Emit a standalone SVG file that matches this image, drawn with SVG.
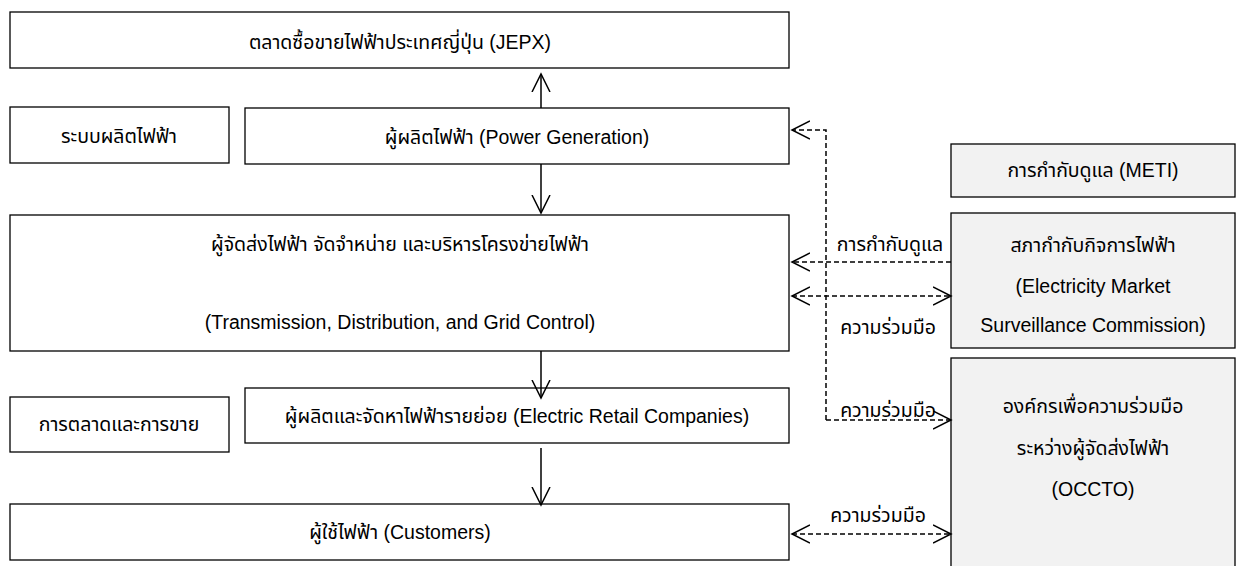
<svg xmlns="http://www.w3.org/2000/svg" width="1243" height="566" viewBox="0 0 1243 566">
<style>
.box{fill:#ffffff;stroke:#000;stroke-width:1.3}
.gbox{fill:#f2f2f2;stroke:#000;stroke-width:1.3}
text{font-family:"Liberation Sans","Noto Sans Thai","Noto Sans",sans-serif;font-size:19.5px;fill:#000;text-anchor:middle;dominant-baseline:central}
.solid{fill:none;stroke:#000;stroke-width:1.5}
.dash{fill:none;stroke:#000;stroke-width:1.5;stroke-dasharray:5,3}
</style>
<defs>
<marker id="open" viewBox="0 0 20 20" refX="18" refY="10" markerWidth="20" markerHeight="20" markerUnits="userSpaceOnUse" orient="auto-start-reverse">
<path d="M0,1 L18,10 L0,19" fill="none" stroke="#000" stroke-width="1.5"/>
</marker>
</defs>
<g id="jepx"><rect class="box" x="10" y="12" width="779" height="56"/><text x="400" y="42">ตลาดซื้อขายไฟฟ้าประเทศญี่ปุ่น (JEPX)</text></g>
<g id="gen-system"><rect class="box" x="10" y="107" width="219" height="56"/><text x="119" y="136">ระบบผลิตไฟฟ้า</text></g>
<g id="power-gen"><rect class="box" x="245" y="108" width="544" height="56"/><text x="517" y="137">ผู้ผลิตไฟฟ้า (Power Generation)</text></g>
<g id="meti"><rect class="gbox" x="951" y="144" width="284" height="53"/><text x="1093" y="170">การกำกับดูแล (METI)</text></g>
<g id="transmission"><rect class="box" x="10" y="215" width="779" height="136"/><text x="400" y="244">ผู้จัดส่งไฟฟ้า จัดจำหน่าย และบริหารโครงข่ายไฟฟ้า</text><text x="400" y="322">(Transmission, Distribution, and Grid Control)</text></g>
<g id="emsc"><rect class="gbox" x="951" y="213" width="284" height="135"/><text x="1093" y="245">สภากำกับกิจการไฟฟ้า</text><text x="1093" y="286">(Electricity Market</text><text x="1093" y="325">Surveillance Commission)</text></g>
<g id="occto"><rect class="gbox" x="951" y="358" width="284" height="220"/><text x="1093" y="406">องค์กรเพื่อความร่วมมือ</text><text x="1093" y="448">ระหว่างผู้จัดส่งไฟฟ้า</text><text x="1093" y="489">(OCCTO)</text></g>
<g id="marketing"><rect class="box" x="10" y="397" width="219" height="55"/><text x="119" y="424">การตลาดและการขาย</text></g>
<g id="retail"><rect class="box" x="245" y="388" width="544" height="55"/><text x="517" y="416">ผู้ผลิตและจัดหาไฟฟ้ารายย่อย (Electric Retail Companies)</text></g>
<g id="customers"><rect class="box" x="10" y="504" width="779" height="56"/><text x="400" y="532">ผู้ใช้ไฟฟ้า (Customers)</text></g>
<g id="connectors">
<line class="solid" x1="541" y1="108" x2="541" y2="74" marker-end="url(#open)"/>
<line class="solid" x1="541" y1="164" x2="541" y2="213" marker-end="url(#open)"/>
<line class="solid" x1="541" y1="351" x2="541" y2="398" marker-end="url(#open)"/>
<line class="solid" x1="541" y1="448" x2="541" y2="505" marker-end="url(#open)"/>
<polyline class="dash" points="826,420 826,130 792,130" marker-end="url(#open)"/>
<line class="dash" x1="826" y1="420" x2="951" y2="420" marker-end="url(#open)"/>
<line class="dash" x1="951" y1="262" x2="792" y2="262" marker-end="url(#open)"/>
<line class="dash" x1="792" y1="296" x2="951" y2="296" marker-start="url(#open)" marker-end="url(#open)"/>
<line class="dash" x1="792" y1="534" x2="951" y2="534" marker-start="url(#open)" marker-end="url(#open)"/>
<text x="890" y="244">การกำกับดูแล</text>
<text x="888" y="327">ความร่วมมือ</text>
<text x="888" y="410">ความร่วมมือ</text>
<text x="878" y="515">ความร่วมมือ</text>
</g>
</svg>
